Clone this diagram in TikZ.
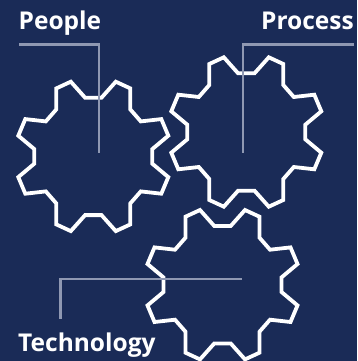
\documentclass[tikz,border=0pt]{standalone}
\usepackage{fontspec}
\setmainfont{Open Sans}
\definecolor{navy}{HTML}{1A2B57}
\definecolor{leaderc}{HTML}{8F98B2}
\tikzset{
  gearline/.style={draw=white,line width=3.8pt,line join=miter,miter limit=4},
  leader/.style={draw=leaderc,line width=2.3pt},
  label/.style={text=white,font=\bfseries\fontsize{24.5}{27}\selectfont,inner sep=0pt},
  gear/.pic={
    \draw[gearline]
      (8.2,-58.7) -- (22.5,-74.7) -- (37,-68) -- (37,-47) -- (47.5,-35) -- (68,-37.3) -- (75,-20.7) -- (59,-7.3)
      -- (59,7.3) -- (75,20.7) -- (68,37.3) -- (47.5,35) -- (37,47) -- (37,68) -- (22.5,74.7) -- (8.2,58.7)
      -- (-8.2,58.7) -- (-22.5,74.7) -- (-37,68) -- (-37,47) -- (-47.5,35) -- (-68,37.3) -- (-75,20.7) -- (-59,7.3)
      -- (-59,-7.3) -- (-75,-20.7) -- (-68,-37.3) -- (-47.5,-35) -- (-37,-47) -- (-37,-68) -- (-22.5,-74.7) -- (-8.2,-58.7)
      -- cycle;
  }
}
\begin{document}
\begin{tikzpicture}[x=1pt,y=-1pt]
  \fill[navy] (0,0) rectangle (357,361);
  \useasboundingbox (0,0) rectangle (357,361);
  \pic at (93.3,156.4) {gear};
  \pic at (246.3,132) {gear};
  \pic at (222.5,284.7) {gear};
  \node[label,anchor=base west] (people) at (18.5,29.5) {People};
  \node[label,anchor=base east] (process) at (354,29.5) {Process};
  \node[label,anchor=base west] (technology) at (18,351) {Technology};
  \coordinate (peoplestart) at (19,44.5);
  \coordinate (peopleend) at (98.7,153);
  \coordinate (processstart) at (354,44.5);
  \coordinate (processend) at (243,153);
  \coordinate (techstart) at (60.5,318.5);
  \coordinate (techend) at (241.7,279);
  \begin{scope}[leader]
    \draw (peoplestart) -| (peopleend);
    \draw (processstart) -| (processend);
    \draw (techstart) |- (techend);
  \end{scope}
\end{tikzpicture}
\end{document}
